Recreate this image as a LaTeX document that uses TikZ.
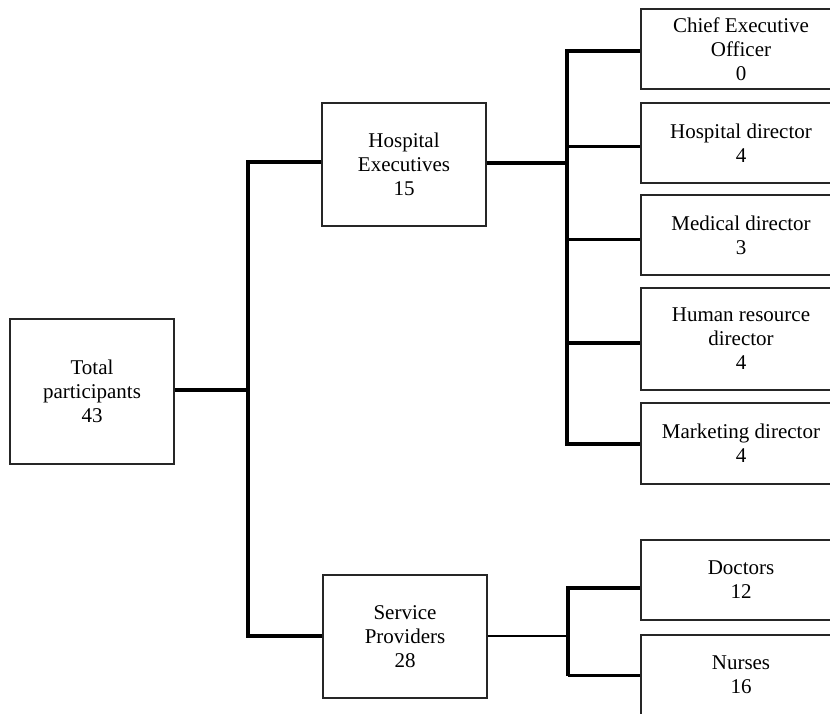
\documentclass[tikz,border=0pt]{standalone}
\usepackage{fontspec}
\setmainfont{Liberation Serif}
\begin{document}
\begin{tikzpicture}[x=1pt,y=-1pt,
  box/.style={draw=black!85, line width=1.4pt, align=center, inner sep=0pt,
    font=\fontsize{21}{24}\selectfont},
  midbox/.style={box, minimum width=164pt, minimum height=123pt},
  leafbox/.style={box, minimum width=200pt, minimum height=80pt},
  trunk/.style={line width=3.2pt, line join=miter},
  branch/.style={line width=2.9pt},
  thin/.style={line width=2pt}]
\useasboundingbox (0,0) rectangle (830,713);
% nodes
\node[box, minimum width=164pt, minimum height=145pt] (total) at (92,391.5) {Total\\participants\\43};
\node[midbox] (he) at (404,164.5) {Hospital\\Executives\\15};
\node[midbox] (sp) at (405,636.5) {Service\\Providers\\28};
\node[leafbox] (ceo) at (741,49) {Chief Executive\\Officer\\0};
\node[leafbox] (hd) at (741,143) {Hospital director\\4};
\node[leafbox] (md) at (741,235) {Medical director\\3};
\node[leafbox, minimum height=102pt] (hr) at (741,339) {Human resource\\director\\4};
\node[leafbox, minimum height=81pt] (mk) at (741,443.5) {Marketing director\\4};
\node[leafbox] (doc) at (741,580) {Doctors\\12};
\node[leafbox] (nur) at (741,675) {Nurses\\16};
% junction coordinates
\coordinate (j0) at (248,390);
\coordinate (heL) at (248,162);
\coordinate (spL) at (248,636);
\coordinate (r0) at (567,163);
\coordinate (r1) at (567,51);
\coordinate (r2) at (567,146.5);
\coordinate (r3) at (567,239.5);
\coordinate (r4) at (567,343);
\coordinate (r5) at (567,444);
\coordinate (s0) at (568,636);
\coordinate (s1) at (568,588);
\coordinate (s2) at (568,675.5);
% left tree
\draw[trunk] (total.east |- j0) -- (j0);
\draw[trunk] (heL -| he.west) -- (heL) -- (spL) -- (spL -| sp.west);
% hospital executives branch
\draw[trunk] (he.east |- r0) -- (r0);
\draw[trunk] (r1 -| ceo.west) -- (r1) -- (r5) -- (r5 -| mk.west);
\draw[branch] (r2) -- (r2 -| hd.west);
\draw[branch] (r3) -- (r3 -| md.west);
\draw[trunk] (r4) -- (r4 -| hr.west);
% service providers branch
\draw[thin] (sp.east |- s0) -- (s0);
\draw[trunk] (s1 -| doc.west) -- (s1) -- (s2);
\draw[branch] (s2) -- (s2 -| nur.west);
\end{tikzpicture}
\end{document}
